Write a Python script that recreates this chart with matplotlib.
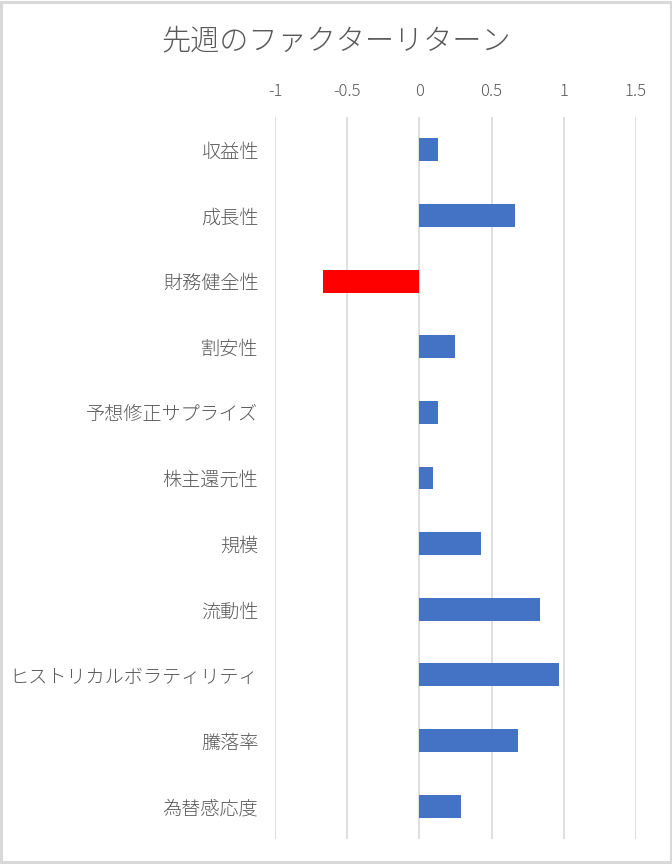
import numpy as np
import matplotlib
matplotlib.use("Agg")
import matplotlib.pyplot as plt
from matplotlib.patches import Rectangle

plt.rcParams['font.family'] = ['Noto Sans CJK JP', 'DejaVu Sans']
plt.rcParams['font.weight'] = 'light'

# factor returns of last week
factors = ['収益性', '成長性', '財務健全性', '割安性', '予想修正サプライズ',
           '株主還元性', '規模', '流動性', 'ヒストリカルボラティリティ',
           '騰落率', '為替感応度']
returns = [0.13, 0.665, -0.665, 0.245, 0.13, 0.097, 0.43, 0.835, 0.965, 0.685, 0.285]
xticks = [-1, -0.5, 0, 0.5, 1, 1.5]
xticklabels = ['-1', '-0.5', '0', '0.5', '1', '1.5']

text_col = '#595959'
grid_col = '#d9d9d9'

fig = plt.figure(figsize=(6.72, 8.64), dpi=100)
ax = fig.add_axes([275/672, 25/864, 361/672, 722/864])

y = np.arange(len(factors))
colors = ['#ff0000' if v < 0 else '#4472c4' for v in returns]
ax.barh(y, returns, height=0.35, color=colors, zorder=3)

ax.set_ylim(len(factors) - 0.5, -0.5)
ax.set_xlim(-1, 1.5)
ax.set_yticks(y)
ax.set_yticklabels(factors)
ax.set_xticks(xticks)
ax.set_xticklabels(xticklabels)
ax.xaxis.tick_top()
ax.tick_params(axis='x', length=0, pad=12, labelsize=12, labelcolor=text_col)
ax.tick_params(axis='y', length=0, pad=12, labelsize=13.8, labelcolor=text_col)
ax.grid(axis='x', color=grid_col, linewidth=1.2, zorder=0)
for s in ax.spines.values():
    s.set_visible(False)

fig.text(0.5, 1 - 41/864, '先週のファクターリターン', ha='center', va='center',
         fontsize=21, color=text_col)

# chart border
fig.patches.append(Rectangle((0.002, 0.002), 0.996, 0.996, transform=fig.transFigure,
                             fill=False, edgecolor=grid_col, linewidth=2.2))

fig.savefig('out.png', dpi=100)
